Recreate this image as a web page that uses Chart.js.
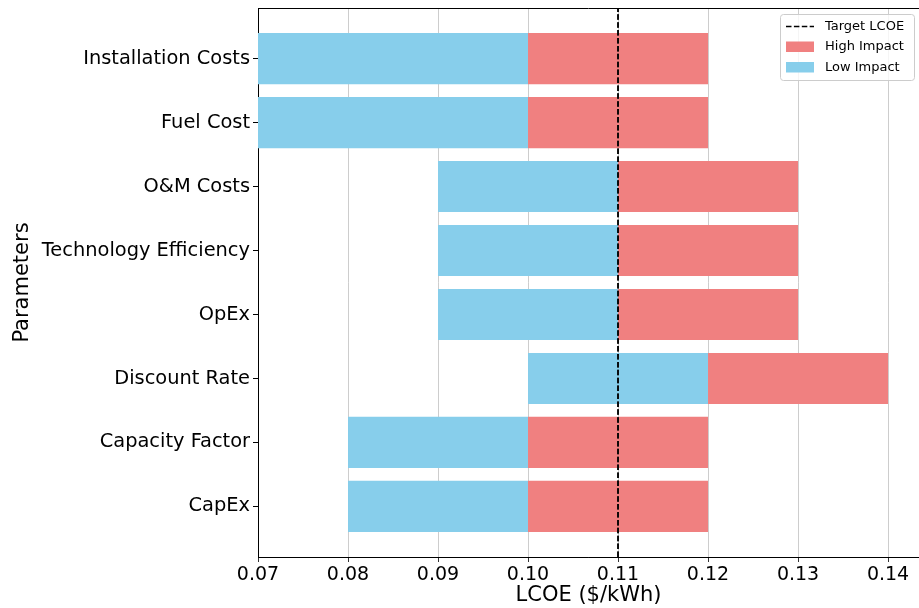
<!DOCTYPE html>
<html lang="en">
<head>
  <meta charset="UTF-8">
  <title>LCOE Sensitivity</title>
  <style>
    body { margin: 0; background: #fff; }
    canvas { display: block; }
  </style>
  <script src="https://cdn.jsdelivr.net/npm/chart.js"></script>
</head>
<body>
  <canvas id="tornadoChart" width="919" height="608"></canvas>

  <script>
    // listed bottom to top, same order as the bars stack up
    const parameters = ['CapEx', 'Capacity Factor', 'Discount Rate', 'OpEx',
      'Technology Efficiency', 'O&M Costs', 'Fuel Cost', 'Installation Costs'];
    const lowValues  = [0.08, 0.08, 0.10, 0.09, 0.09, 0.09, 0.07, 0.07];
    const baseValues = [0.10, 0.10, 0.12, 0.11, 0.11, 0.11, 0.10, 0.10];
    const highValues = [0.12, 0.12, 0.14, 0.13, 0.13, 0.13, 0.12, 0.12];
    const targetLcoe = 0.11;
    const xTicks = [0.07, 0.08, 0.09, 0.10, 0.11, 0.12, 0.13, 0.14];

    const yMin = -0.79, yMax = 7.79;
    const font = 'DejaVu Sans';
    Chart.defaults.font.family = font;
    Chart.defaults.color = '#000';

    // top spine
    const frame = {
      id: 'frame',
      afterDraw(chart) {
        const { ctx, chartArea: a } = chart;
        ctx.save();
        ctx.strokeStyle = '#000';
        ctx.lineWidth = 1;
        ctx.beginPath();
        ctx.moveTo(a.left, a.top + 0.5);
        ctx.lineTo(a.right, a.top + 0.5);
        ctx.stroke();
        ctx.restore();
      }
    };

    // redraw the target line over the grid, then the legend box
    const legendBox = {
      id: 'legendBox',
      afterDraw(chart) {
        const ctx = chart.ctx;
        const a = chart.chartArea;
        ctx.save();
        ctx.beginPath();
        ctx.rect(a.left, a.top, a.right - a.left, a.bottom - a.top);
        ctx.clip();
        chart.getDatasetMeta(0).controller.draw();
        ctx.restore();

        ctx.save();
        ctx.fillStyle = 'rgba(255,255,255,0.8)';
        ctx.strokeStyle = '#cccccc';
        ctx.lineWidth = 1;
        ctx.beginPath();
        ctx.roundRect(780.5, 14.5, 134, 66, 3);
        ctx.fill();
        ctx.stroke();

        ctx.strokeStyle = '#000';
        ctx.lineWidth = 1.5;
        ctx.setLineDash([5.5, 2.4]);
        ctx.beginPath();
        ctx.moveTo(786, 26.5);
        ctx.lineTo(814, 26.5);
        ctx.stroke();
        ctx.setLineDash([]);

        ctx.fillStyle = '#F08080';
        ctx.fillRect(786, 41.5, 28, 10.5);
        ctx.fillStyle = '#87CEEB';
        ctx.fillRect(786, 62, 28, 10.5);

        ctx.fillStyle = '#000';
        ctx.font = '13px "' + font + '"';
        ctx.textBaseline = 'middle';
        ctx.fillText('Target LCOE', 825, 26.5);
        ctx.fillText('High Impact', 825, 47);
        ctx.fillText('Low Impact', 825, 67.5);
        ctx.restore();
      }
    };

    const ctx = document.getElementById('tornadoChart').getContext('2d');
    new Chart(ctx, {
      type: 'bar',
      data: {
        datasets: [
          {
            type: 'line',
            label: 'Target LCOE',
            data: [{ x: targetLcoe, y: yMin }, { x: targetLcoe, y: yMax }],
            borderColor: '#000',
            borderWidth: 1.5,
            borderDash: [5.5, 2.4],
            pointRadius: 0,
            fill: false
          },
          {
            label: 'High Impact',
            data: parameters.map((p, i) => ({ y: i, x: [baseValues[i], highValues[i]] })),
            backgroundColor: '#F08080',
            borderWidth: 0,
            grouped: false,
            categoryPercentage: 1,
            barPercentage: 0.8
          },
          {
            label: 'Low Impact',
            data: parameters.map((p, i) => ({ y: i, x: [lowValues[i], baseValues[i]] })),
            backgroundColor: '#87CEEB',
            borderWidth: 0,
            grouped: false,
            categoryPercentage: 1,
            barPercentage: 0.8
          }
        ]
      },
      options: {
        indexAxis: 'y',
        responsive: false,
        animation: false,
        layout: { padding: { top: 8, right: 0, left: 0, bottom: 0 } },
        plugins: {
          legend: { display: false },
          tooltip: { enabled: false }
        },
        scales: {
          x: {
            type: 'linear',
            position: 'bottom',
            min: 0.07,
            max: 0.14344,
            z: 1,
            afterBuildTicks: (scale) => { scale.ticks = xTicks.map(v => ({ value: v })); },
            afterFit: (scale) => { scale.height = 51; scale.paddingRight = 0; },
            grid: {
              color: 'rgba(176,176,176,0.8)',
              lineWidth: 0.8,
              tickColor: '#000',
              tickLength: 5
            },
            border: { color: '#000', width: 1 },
            ticks: {
              padding: 2,
              maxRotation: 0,
              font: { size: 19 },
              callback: (v) => v.toFixed(2)
            },
            title: {
              display: true,
              text: 'LCOE ($/kWh)',
              font: { size: 21 },
              padding: { top: 0, bottom: 0 }
            }
          },
          y: {
            type: 'linear',
            min: yMin,
            max: yMax,
            offset: false,
            z: 1,
            afterBuildTicks: (scale) => { scale.ticks = parameters.map((p, i) => ({ value: i })); },
            afterFit: (scale) => {
              scale.width = 258;
              scale.paddingTop = 0;
              scale.paddingBottom = 0;
            },
            grid: {
              offset: false,
              drawOnChartArea: false,
              tickColor: '#000',
              tickLength: 5
            },
            border: { color: '#000', width: 1 },
            ticks: {
              padding: 3,
              font: { size: 19.4 },
              callback: (v) => parameters[v]
            },
            title: {
              display: true,
              text: 'Parameters',
              font: { size: 21 },
              padding: { top: 10, bottom: 0 }
            }
          }
        }
      },
      plugins: [frame, legendBox]
    });
  </script>
</body>
</html>
